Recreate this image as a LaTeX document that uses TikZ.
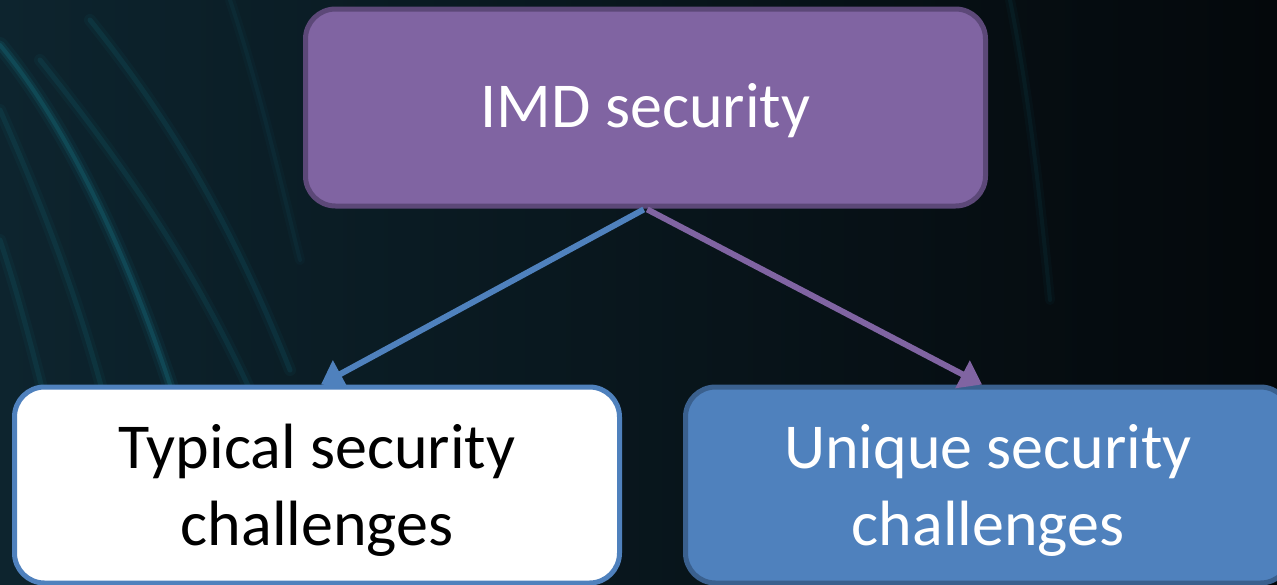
\documentclass[tikz,border=0pt]{standalone}
\usepackage{fontspec}
\setmainfont{Carlito}
\usetikzlibrary{arrows.meta}

\definecolor{bgleft}{RGB}{13,36,46}
\definecolor{bgmid}{RGB}{9,24,32}
\definecolor{bgright}{RGB}{4,8,11}
\definecolor{streak}{RGB}{20,95,110}
\definecolor{purplefill}{RGB}{128,100,162}
\definecolor{purpleedge}{RGB}{92,72,120}
\definecolor{bluefill}{RGB}{79,129,189}
\definecolor{blueedge}{RGB}{58,96,142}

\tikzset{
  box/.style={rounded corners=30pt, line width=5pt, align=center,
    font=\fontsize{64}{77}\selectfont},
  rootbox/.style={box, fill=purplefill, draw=purpleedge, text=white,
    minimum width=680pt, minimum height=197pt, text height=40pt, text depth=0pt},
  plainbox/.style={box, fill=white, draw=bluefill, text=black,
    minimum width=605pt, minimum height=196pt, text depth=0pt},
  accentbox/.style={box, fill=bluefill, draw=blueedge, text=white,
    minimum width=605pt, minimum height=196pt, text depth=0pt},
  link/.style={line width=6pt, -{Triangle[length=22pt,width=30pt]}, shorten <=2pt},
  glow/.style={line width=#1, opacity=0.12},
}

\begin{document}
\begin{tikzpicture}[x=1pt,y=-1pt]
  % backdrop
  \useasboundingbox (0,0) rectangle (1277,584);
  \shade[left color=bgleft, middle color=bgmid, right color=bgright]
    (0,0) rectangle (1277,584);
  % soft light streaks on the left, each a wide haze under a thinner core
  \begin{scope}[streak, line cap=round]
    \foreach \w/\o in {16pt/0.12, 9pt/0.25, 4pt/0.45} {
      \draw[line width=\w, opacity=\o] (0,45) .. controls (70,130) and (130,260) .. (175,400);
    }
    \foreach \w/\o in {12pt/0.10, 5pt/0.22} {
      \draw[line width=\w, opacity=\o] (0,110) .. controls (40,200) and (80,300) .. (110,420);
      \draw[line width=\w, opacity=\o] (40,60) .. controls (120,160) and (190,260) .. (250,390);
      \draw[line width=\w, opacity=\o] (0,240) .. controls (20,300) and (35,360) .. (50,420);
      \draw[line width=\w, opacity=\o] (90,20) .. controls (170,120) and (230,220) .. (290,370);
    }
    \foreach \w/\o in {10pt/0.07, 4pt/0.12} {
      \draw[line width=\w, opacity=\o] (230,0) .. controls (260,90) and (280,180) .. (300,260);
      \draw[line width=\w, opacity=\o] (1010,0) .. controls (1030,100) and (1040,200) .. (1050,300);
    }
  \end{scope}

  \node[rootbox] (root) at (645.5,107.5) {IMD security};
  \node[plainbox] (typical) at (317,485) {Typical security\\challenges};
  \node[accentbox] (unique) at (988,485) {Unique security\\challenges};

  \draw[link, draw=bluefill] (root.south) -- ([xshift=4pt]typical.north);
  \draw[link, draw=purplefill] (root.south) -- ([xshift=-6pt]unique.north);
\end{tikzpicture}
\end{document}
